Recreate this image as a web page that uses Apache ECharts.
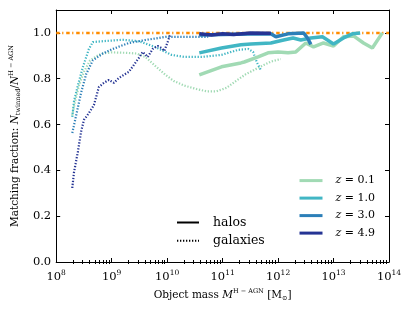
<!DOCTYPE html>
<html><head><meta charset="utf-8">
<script src="https://cdn.jsdelivr.net/npm/echarts@6/dist/echarts.min.js"></script>
<style>html,body{margin:0;padding:0;background:#fff}#c{width:415px;height:312px}</style>
</head><body><div id="c"></div>
<script>
// x values are log10(mass / Msun), y values are matching fractions
const zLabels = ['0.1', '1.0', '3.0', '4.9'];
const zColors = ['#a1dab4', '#41b6c4', '#2c7fb8', '#253494'];
const xTickExponents = [8, 9, 10, 11, 12, 13, 14];
const yTicks = [0.0, 0.2, 0.4, 0.6, 0.8, 1.0];

const galaxiesZ01 = [[8.29,0.64],[8.34,0.70],[8.41,0.77],[8.50,0.83],[8.61,0.88],[8.74,0.90],[8.82,0.91],[9.00,0.915],[9.27,0.913],[9.45,0.91],[9.61,0.895],[9.79,0.855],[9.97,0.817],[10.12,0.79],[10.31,0.77],[10.53,0.755],[10.71,0.745],[10.89,0.745],[11.07,0.76],[11.24,0.79],[11.42,0.82],[11.66,0.85],[11.87,0.875],[12.05,0.886]];
const galaxiesZ10 = [[8.29,0.633],[8.32,0.70],[8.39,0.77],[8.48,0.85],[8.59,0.93],[8.66,0.96],[8.90,0.965],[9.20,0.97],[9.43,0.965],[9.54,0.96],[9.77,0.94],[10.08,0.904],[10.31,0.895],[10.62,0.895],[10.98,0.904],[11.28,0.926],[11.46,0.93],[11.55,0.917],[11.62,0.87],[11.69,0.838]];
const galaxiesZ30 = [[8.29,0.563],[8.36,0.64],[8.45,0.74],[8.54,0.82],[8.66,0.88],[8.84,0.91],[9.02,0.93],[9.31,0.956],[9.61,0.969],[9.85,0.978],[9.97,0.983],[10.30,0.983],[10.74,0.983]];
const galaxiesZ49 = [[8.29,0.323],[8.32,0.39],[8.39,0.48],[8.45,0.57],[8.50,0.62],[8.59,0.65],[8.68,0.685],[8.77,0.764],[8.86,0.782],[8.95,0.795],[9.04,0.782],[9.13,0.803],[9.22,0.817],[9.31,0.83],[9.40,0.86],[9.49,0.891],[9.56,0.917],[9.65,0.895],[9.74,0.93],[9.83,0.943],[9.90,0.934],[9.95,0.921],[10.01,0.961],[10.06,0.996]];

const halosZ01 = [[10.58,0.817],[10.98,0.852],[11.33,0.869],[11.39,0.873],[11.64,0.895],[11.82,0.913],[12.00,0.917],[12.18,0.913],[12.32,0.917],[12.50,0.956],[12.64,0.939],[12.82,0.956],[13.00,0.943],[13.18,0.983],[13.36,0.987],[13.54,0.956],[13.70,0.934],[13.88,1.0]];
const halosZ10 = [[10.58,0.913],[10.98,0.934],[11.33,0.948],[11.51,0.952],[11.87,0.956],[12.10,0.969],[12.27,0.978],[12.41,0.969],[12.59,0.978],[12.80,0.983],[13.00,0.952],[13.18,0.978],[13.34,0.996],[13.48,1.0]];
const halosZ30 = [[10.58,0.991],[11.0,0.993],[11.5,0.995],[11.87,0.996],[11.96,0.983],[12.18,0.996],[12.46,1.0],[12.53,0.978],[12.59,0.95]];
const halosZ49 = [[10.58,0.996],[10.8,0.991],[11.0,0.996],[11.2,0.993],[11.5,1.0],[11.87,0.998]];

const perfectMatch = [[8, 1.0], [14, 1.0]];

const galaxies = [galaxiesZ01, galaxiesZ10, galaxiesZ30, galaxiesZ49];
const halos = [halosZ01, halosZ10, halosZ30, halosZ49];

const minorTicks = [];
for (let e = 8; e < 14; e++) for (let k = 2; k <= 9; k++) minorTicks.push(e + Math.log10(k));

const FONT = 'DejaVu Serif';
const chart = echarts.init(document.getElementById('c'), null, {renderer: 'canvas'});

const DOT = [1.3, 1.7];
const series = [];
series.push({type: 'line', name: 'perfect', data: perfectMatch, symbol: 'none', silent: true,
  lineStyle: {color: '#ff8c00', width: 2.5, type: [3.5, 2.5, 1.2, 2.8]}, z: 1});
galaxies.forEach((d, i) => series.push({type: 'line', name: 'gal ' + zLabels[i], data: d, symbol: 'none',
  lineStyle: {color: zColors[i], width: 2.2, type: DOT}, itemStyle: {color: zColors[i]}, z: 2 + i}));
halos.forEach((d, i) => series.push({type: 'line', name: 'z = ' + zLabels[i], data: d, symbol: 'none',
  lineStyle: {color: zColors[i], width: 3.5, type: 'solid'}, itemStyle: {color: zColors[i]}, z: 10 + i}));
series.push({type: 'line', name: 'halos', data: [], symbol: 'none', lineStyle: {color: '#000', width: 3, type: 'solid'}, itemStyle: {color: '#000'}});
series.push({type: 'line', name: 'galaxies', data: [], symbol: 'none', lineStyle: {color: '#000', width: 2, type: DOT}, itemStyle: {color: '#000'}});

const baseX = {min: 8, max: 14, interval: 1, gridIndex: 0, splitLine: {show: false}};
const xTickLabel = v => xTickExponents.includes(Math.round(v)) ? '{b|10}{s|' + Math.round(v) + '}' : '';
const nameRich = {i: {fontStyle: 'italic', fontSize: 10.5, fontFamily: FONT, color: '#000'},
  sup: {fontSize: 6.5, fontFamily: FONT, color: '#000', padding: [0, 0, 8, 0]},
  sub: {fontSize: 6.5, fontFamily: FONT, color: '#000', padding: [6, 0, 0, 0]}};
const hiddenIcon = {color: 'rgba(0,0,0,0)', borderWidth: 0, opacity: 0};

chart.setOption({
  animation: false,
  backgroundColor: '#fff',
  textStyle: {fontFamily: FONT},
  grid: {left: 54, right: 26, top: 10, bottom: 50, containLabel: false},
  xAxis: [
    Object.assign({}, baseX, {type: 'value', position: 'bottom',
      axisLine: {show: true, onZero: false, lineStyle: {color: '#000', width: 1}},
      axisTick: {show: true, inside: true, length: 4, lineStyle: {color: '#000'}},
      axisLabel: {show: true, color: '#000', fontFamily: FONT, margin: 7, formatter: xTickLabel,
        rich: {b: {fontSize: 11.5, fontFamily: FONT, color: '#000'}, s: {fontSize: 7.5, fontFamily: FONT, color: '#000', padding: [0, 0, 8, 0]}}},
      name: 'Object mass {i|M}{sup|H − AGN} [M{sub|⊙}]', nameLocation: 'middle', nameGap: 18,
      nameTextStyle: {fontSize: 10.5, color: '#000', fontFamily: FONT, rich: nameRich}}),
    Object.assign({}, baseX, {type: 'value', position: 'bottom',
      axisLine: {show: false}, axisLabel: {show: false},
      axisTick: {show: true, inside: true, length: 2, customValues: minorTicks, lineStyle: {color: '#000'}}}),
    Object.assign({}, baseX, {type: 'value', position: 'top',
      axisLine: {show: true, onZero: false, lineStyle: {color: '#000', width: 1}}, axisLabel: {show: false},
      axisTick: {show: true, inside: true, length: 4, lineStyle: {color: '#000'}}}),
    Object.assign({}, baseX, {type: 'value', position: 'top',
      axisLine: {show: false}, axisLabel: {show: false},
      axisTick: {show: true, inside: true, length: 2, customValues: minorTicks, lineStyle: {color: '#000'}}})
  ],
  yAxis: [
    {type: 'value', min: 0, max: 1.1, interval: 0.2, position: 'left', splitLine: {show: false},
      axisLine: {show: true, onZero: false, lineStyle: {color: '#000', width: 1}},
      axisTick: {show: true, inside: true, length: 4, lineStyle: {color: '#000'}},
      axisLabel: {color: '#000', fontSize: 11.5, fontFamily: FONT, margin: 5, showMaxLabel: true,
        formatter: v => (yTicks.some(t => Math.abs(t - v) < 1e-6) ? v.toFixed(1) : '')},
      name: 'Matching fraction: {i|N}{sub|twinned}/{i|N}{sup|H − AGN}', nameLocation: 'middle', nameGap: 24, nameRotate: 90,
      nameTextStyle: {fontSize: 10.5, color: '#000', fontFamily: FONT, rich: nameRich}},
    {type: 'value', min: 0, max: 1.1, interval: 0.2, position: 'right', splitLine: {show: false},
      axisLine: {show: true, onZero: false, lineStyle: {color: '#000', width: 1}},
      axisTick: {show: true, inside: true, length: 4, lineStyle: {color: '#000'}},
      axisLabel: {show: false}}
  ],
  legend: [
    {data: ['z = 0.1', 'z = 1.0', 'z = 3.0', 'z = 4.9'], orient: 'vertical', left: 298, top: 175, padding: 0,
      itemWidth: 23, itemHeight: 14, itemGap: 6.3, selectedMode: false,
      lineStyle: {width: 3}, itemStyle: hiddenIcon,
      formatter: n => '{i|z} = ' + n.slice(4),
      textStyle: {fontSize: 11, color: '#000', fontFamily: FONT, padding: [0, 0, 0, 8],
        rich: {i: {fontStyle: 'italic', fontSize: 11, fontFamily: FONT, color: '#000'}}}},
    {data: ['halos', 'galaxies'], orient: 'vertical', left: 176, top: 216, padding: 0,
      itemWidth: 22, itemHeight: 14, itemGap: 5.3, selectedMode: false, itemStyle: hiddenIcon,
      textStyle: {fontSize: 12.5, color: '#000', fontFamily: FONT, padding: [0, 0, 0, 9]}}
  ],
  series: series
});
</script></body></html>
